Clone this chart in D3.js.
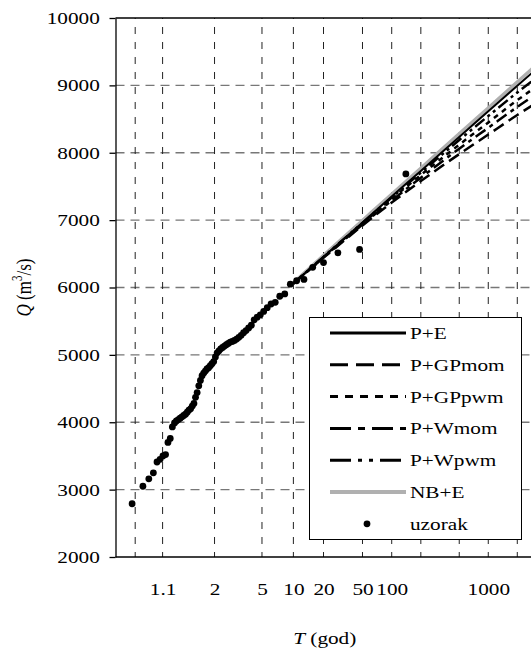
<!DOCTYPE html>
<html>
<head>
<meta charset="utf-8">
<script src="https://cdn.jsdelivr.net/npm/d3@7"></script>
<style>
  body { margin: 0; background: #fff; }
  svg text { font-family: "Liberation Serif", "Times New Roman", serif; fill: #000; }
</style>
</head>
<body>
<div id="chart"></div>
<script>
// sample (uzorak): return period T (god) and discharge Q (m3/s)
const sampleT = [140, 46.67, 28, 20, 15.56, 12.73, 10.77, 9.333, 8.235, 7.368, 6.667, 6.087, 5.6, 5.185, 4.828, 4.516, 4.242, 4, 3.784, 3.59, 3.415, 3.256, 3.111, 2.979, 2.857, 2.745, 2.642, 2.545, 2.456, 2.373, 2.295, 2.222, 2.154, 2.09, 2.029, 1.972, 1.918, 1.867, 1.818, 1.772, 1.728, 1.687, 1.647, 1.609, 1.573, 1.538, 1.505, 1.474, 1.443, 1.414, 1.386, 1.359, 1.333, 1.308, 1.284, 1.261, 1.239, 1.217, 1.197, 1.176, 1.157, 1.138, 1.12, 1.102, 1.085, 1.069, 1.053, 1.037, 1.022, 1.007];
const sampleQ = [7685, 6565, 6515, 6370, 6300, 6120, 6100, 6050, 5905, 5870, 5780, 5755, 5700, 5645, 5595, 5560, 5520, 5440, 5400, 5360, 5330, 5290, 5260, 5235, 5215, 5200, 5190, 5170, 5150, 5130, 5110, 5090, 5060, 5030, 4970, 4900, 4870, 4840, 4810, 4790, 4760, 4730, 4690, 4620, 4540, 4440, 4370, 4280, 4240, 4200, 4180, 4150, 4120, 4100, 4080, 4060, 4040, 4020, 3990, 3930, 3760, 3700, 3520, 3500, 3450, 3410, 3250, 3160, 3050, 2790];

// fitted models
const curveT = [10, 20, 50, 100, 200, 500, 1000, 2000, 3000];
const qPE    = [6060, 6455, 6965, 7350, 7730, 8235, 8615, 8995, 9215];
const qGPmom = [6060, 6440, 6920, 7260, 7580, 7980, 8270, 8560, 8720];
const qGPpwm = [6060, 6450, 6950, 7315, 7670, 8120, 8450, 8780, 8960];
const qWmom  = [6060, 6445, 6935, 7290, 7630, 8060, 8370, 8680, 8850];
const qWpwm  = [6060, 6455, 6960, 7335, 7705, 8190, 8545, 8895, 9090];
const qNBE   = [6070, 6475, 6995, 7385, 7770, 8280, 8665, 9050, 9275];

const seriesNames = ["P+E", "P+GPmom", "P+GPpwm", "P+Wmom", "P+Wpwm", "NB+E"];
const seriesQ = [qPE, qGPmom, qGPpwm, qWmom, qWpwm, qNBE];

// axis ticks
const gridT = [1.01, 1.1, 2, 5, 10, 20, 50, 100, 200, 500, 1000, 2000];
const labelT = [1.1, 2, 5, 10, 20, 50, 100, 1000];
const yTicks = [2000, 3000, 4000, 5000, 6000, 7000, 8000, 9000, 10000];

const W = 531, H = 651;
const m = { left: 115.5, right: 534, top: 18, bottom: 557 };
const sx = 1.25; // text is a bit wide in the original

const gumbel = (T) => -Math.log(-Math.log(1 - 1 / T));

const svg = d3.select("#chart").append("svg")
  .attr("width", W).attr("height", H);

const x = d3.scaleLinear().domain([-2, 8]).range([m.left, m.right]);
const y = d3.scaleLinear().domain([2000, 10000]).range([m.bottom, m.top]);
const xT = (T) => x(gumbel(T));

svg.append("clipPath").attr("id", "clip")
  .append("rect").attr("x", m.left).attr("y", m.top)
  .attr("width", m.right - m.left).attr("height", m.bottom - m.top);

// grid
svg.append("g").selectAll("line")
  .data(yTicks.filter((d) => d > 2000 && d < 10000))
  .join("line")
  .attr("x1", m.left).attr("x2", m.right)
  .attr("y1", (d) => y(d)).attr("y2", (d) => y(d))
  .attr("stroke", "#777").attr("stroke-width", 1.3)
  .attr("stroke-dasharray", "9,6");

svg.append("g").selectAll("line")
  .data(gridT)
  .join("line")
  .attr("x1", (d) => xT(d)).attr("x2", (d) => xT(d))
  .attr("y1", m.top).attr("y2", m.bottom)
  .attr("stroke", "#222").attr("stroke-width", 1)
  .attr("stroke-dasharray", "7,8")
  .attr("stroke-dashoffset", -9);

// axes
const yAxis = svg.append("g")
  .attr("transform", `translate(${m.left},0)`)
  .call(d3.axisLeft(y).tickValues(yTicks).tickSize(6).tickSizeOuter(0).tickPadding(6.6).tickFormat(d3.format("d")));
yAxis.select(".domain").attr("stroke-width", 1.3);
yAxis.selectAll(".tick line").attr("stroke-width", 1.3);
yAxis.selectAll(".tick text")
  .style("font-size", "17px")
  .attr("transform", `scale(${sx},1)`);

svg.append("line")
  .attr("x1", m.left).attr("x2", m.right)
  .attr("y1", m.top).attr("y2", m.top)
  .attr("stroke", "#000").attr("stroke-width", 1.3);
svg.append("line")
  .attr("x1", m.left).attr("x2", m.right)
  .attr("y1", m.bottom).attr("y2", m.bottom)
  .attr("stroke", "#000").attr("stroke-width", 1.3);

const xAxis = svg.append("g")
  .attr("transform", `translate(0,${m.bottom})`)
  .call(d3.axisBottom(x).tickValues(labelT.map(gumbel)).tickSize(0).tickSizeOuter(0).tickPadding(26)
    .tickFormat((d, i) => String(labelT[i])));
xAxis.select(".domain").remove();
xAxis.selectAll(".tick text")
  .style("font-size", "17px")
  .attr("transform", `scale(${sx},1)`);

// axis titles
const xt = svg.append("text")
  .attr("transform", `translate(${(m.left + m.right) / 2},644) scale(${sx},1)`)
  .attr("text-anchor", "middle")
  .style("font-size", "17px");
xt.append("tspan").style("font-style", "italic").text("T");
xt.append("tspan").text(" (god)");

const yt = svg.append("text")
  .attr("transform", `translate(31,${(m.top + m.bottom) / 2}) rotate(-90) scale(1,${sx})`)
  .attr("text-anchor", "middle")
  .style("font-size", "17px");
yt.append("tspan").style("font-style", "italic").text("Q");
yt.append("tspan").text(" (m");
yt.append("tspan").attr("dy", -7).style("font-size", "11px").text("3");
yt.append("tspan").attr("dy", 7).text("/s)");

// line styles
const styles = {
  "P+E":     { stroke: "#000", width: 2, dash: null, legendDash: null },
  "P+GPmom": { stroke: "#000", width: 2.5, dash: "12,6", legendDash: "18,8" },
  "P+GPpwm": { stroke: "#000", width: 2.5, dash: "5,5", legendDash: "8,7" },
  "P+Wmom":  { stroke: "#000", width: 2.5, dash: "12,5,4,5", legendDash: "21,7,7,7" },
  "P+Wpwm":  { stroke: "#000", width: 2.5, dash: "12,4,3,4,3,4", legendDash: "21,7,4,7,4,7" },
  "NB+E":    { stroke: "#b0b0b0", width: 3.5, dash: null, legendDash: null }
};

const line = d3.line()
  .x((d) => xT(d[0]))
  .y((d) => y(d[1]))
  .curve(d3.curveMonotoneX);

const order = [5, 1, 3, 2, 4, 0];
const curves = svg.append("g").attr("clip-path", "url(#clip)");
order.forEach((i) => {
  const name = seriesNames[i];
  const st = styles[name];
  curves.append("path")
    .datum(curveT.map((t, j) => [t, seriesQ[i][j]]))
    .attr("d", line)
    .attr("fill", "none")
    .attr("stroke", st.stroke)
    .attr("stroke-width", st.width)
    .attr("stroke-dasharray", st.dash);
});

// sample points
svg.append("g").selectAll("circle")
  .data(sampleT.map((t, i) => [t, sampleQ[i]]))
  .join("circle")
  .attr("cx", (d) => xT(d[0]))
  .attr("cy", (d) => y(d[1]))
  .attr("r", 3.4)
  .attr("fill", "#000");

// legend
const lg = svg.append("g");
lg.append("rect")
  .attr("x", 309.5).attr("y", 317.5)
  .attr("width", 212).attr("height", 222)
  .attr("fill", "#fff").attr("stroke", "#000").attr("stroke-width", 1);

const rowY = (i) => 333 + i * 31.8;
seriesNames.forEach((name, i) => {
  const st = styles[name];
  lg.append("line")
    .attr("x1", 330).attr("x2", 406)
    .attr("y1", rowY(i)).attr("y2", rowY(i))
    .attr("stroke", st.stroke)
    .attr("stroke-width", name === "NB+E" ? 4 : 3)
    .attr("stroke-dasharray", st.legendDash);
  lg.append("text")
    .attr("transform", `translate(410,${rowY(i) + 6}) scale(${sx},1)`)
    .style("font-size", "17px")
    .text(name);
});
lg.append("circle")
  .attr("cx", 367).attr("cy", rowY(6)).attr("r", 3.4).attr("fill", "#000");
lg.append("text")
  .attr("transform", `translate(410,${rowY(6) + 6}) scale(${sx},1)`)
  .style("font-size", "17px")
  .text("uzorak");
</script>
</body>
</html>
